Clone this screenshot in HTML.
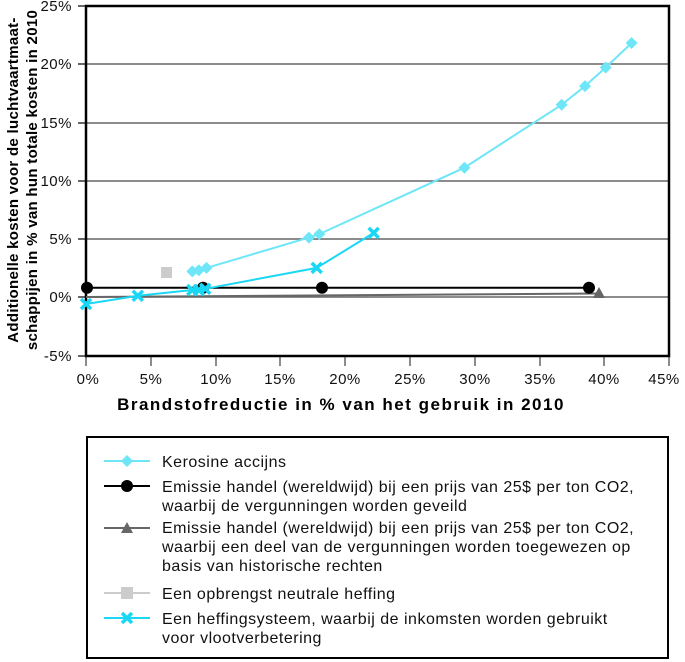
<!DOCTYPE html>
<html><head><meta charset="utf-8"><style>body{margin:0;background:#fff}svg{display:block;font-family:"Liberation Sans",sans-serif}</style></head><body>
<svg width="685" height="662" viewBox="0 0 685 662">
<g stroke="#666" stroke-width="1.5">
<line x1="86" y1="64" x2="669" y2="64"/><line x1="86" y1="123" x2="669" y2="123"/><line x1="86" y1="181" x2="669" y2="181"/><line x1="86" y1="239" x2="669" y2="239"/><line x1="86" y1="297" x2="669" y2="297"/>
</g>
<g stroke="#000" stroke-width="1.2">
<line x1="78" y1="6" x2="86" y2="6"/><line x1="78" y1="64" x2="86" y2="64"/><line x1="78" y1="123" x2="86" y2="123"/><line x1="78" y1="181" x2="86" y2="181"/><line x1="78" y1="239" x2="86" y2="239"/><line x1="78" y1="297" x2="86" y2="297"/><line x1="78" y1="356" x2="86" y2="356"/>
</g>
<g stroke="#666" stroke-width="1.5">
<line x1="86" y1="356" x2="86" y2="366"/><line x1="151" y1="356" x2="151" y2="366"/><line x1="216" y1="356" x2="216" y2="366"/><line x1="280" y1="356" x2="280" y2="366"/><line x1="345" y1="356" x2="345" y2="366"/><line x1="410" y1="356" x2="410" y2="366"/><line x1="475" y1="356" x2="475" y2="366"/><line x1="540" y1="356" x2="540" y2="366"/><line x1="604" y1="356" x2="604" y2="366"/><line x1="669" y1="356" x2="669" y2="366"/>
</g>
<rect x="86" y="6" width="583" height="350" fill="none" stroke="#000" stroke-width="2.5"/>
<g font-size="15" fill="#111" text-anchor="end" letter-spacing="0.5">
<text x="72" y="11">25%</text><text x="72" y="69">20%</text><text x="72" y="128">15%</text><text x="72" y="186">10%</text><text x="72" y="244">5%</text><text x="72" y="302">0%</text><text x="72" y="361">-5%</text>
</g>
<g font-size="15" fill="#111" text-anchor="middle" letter-spacing="0.5">
<text x="88" y="384">0%</text><text x="151" y="384">5%</text><text x="216" y="384">10%</text><text x="280" y="384">15%</text><text x="345" y="384">20%</text><text x="410" y="384">25%</text><text x="475" y="384">30%</text><text x="540" y="384">35%</text><text x="604" y="384">40%</text><text x="664" y="384">45%</text>
</g>
<text x="341" y="410" font-size="17" font-weight="bold" text-anchor="middle" letter-spacing="1.5">Brandstofreductie in % van het gebruik in 2010</text>
<g font-size="15" font-weight="bold" text-anchor="middle" letter-spacing="0.3">
<text transform="translate(18,180) rotate(-90)">Additionelle kosten voor de luchtvaartmaat-</text>
<text transform="translate(37,180) rotate(-90)">schappijen in % van hun totale kosten in 2010</text>
</g>
<polyline points="86,297 599,293.5" fill="none" stroke="#666" stroke-width="2"/>
<polygon points="599,287 605,298 593,298" fill="#666"/>
<polyline points="86,287.7 589,287.7" fill="none" stroke="#000" stroke-width="2"/>
<g fill="#000"><circle cx="87" cy="287.7" r="6"/><circle cx="203" cy="287.7" r="6"/><circle cx="322" cy="287.7" r="6"/><circle cx="589" cy="287.7" r="6"/></g>
<rect x="161" y="267" width="11" height="11" fill="#ccc"/>
<polyline points="192.3,271.4 198.8,270.2 206.5,267.9 308.9,237.6 319.3,234.1 464.4,167.7 561.6,104.8 585,86.1 605.7,67.5 631.6,43" fill="none" stroke="#6ee6f8" stroke-width="2"/>
<g fill="#6ee6f8">
<path d="M192.3 265.4l6 6-6 6-6-6z"/><path d="M198.8 264.2l6 6-6 6-6-6z"/><path d="M206.5 261.9l6 6-6 6-6-6z"/><path d="M308.9 231.6l6 6-6 6-6-6z"/><path d="M319.3 228.1l6 6-6 6-6-6z"/><path d="M464.4 161.7l6 6-6 6-6-6z"/><path d="M561.6 98.8l6 6-6 6-6-6z"/><path d="M585 80.1l6 6-6 6-6-6z"/><path d="M605.7 61.5l6 6-6 6-6-6z"/><path d="M631.6 37l6 6-6 6-6-6z"/>
</g>
<polyline points="86,304 137.8,295.8 192.3,290 198.8,290 205.2,288.8 316.7,267.9 373.7,232.9" fill="none" stroke="#1ad8f5" stroke-width="2"/>
<g stroke="#1ad8f5" stroke-width="3.5">
<path d="M81 299l10 10M91 299l-10 10"/><path d="M132.8 290.8l10 10M142.8 290.8l-10 10"/><path d="M187.3 285l10 10M197.3 285l-10 10"/><path d="M193.8 285l10 10M203.8 285l-10 10"/><path d="M200.2 283.8l10 10M210.2 283.8l-10 10"/><path d="M311.7 262.9l10 10M321.7 262.9l-10 10"/><path d="M368.7 227.9l10 10M378.7 227.9l-10 10"/>
</g>
<rect x="87" y="437" width="581" height="221" fill="none" stroke="#000" stroke-width="2"/>
<g stroke-width="2">
<line x1="104" y1="461" x2="150" y2="461" stroke="#6ee6f8"/><path d="M127 455l6 6-6 6-6-6z" fill="#6ee6f8"/>
<line x1="104" y1="486" x2="150" y2="486" stroke="#000"/><circle cx="127" cy="486" r="6"/>
<line x1="104" y1="528" x2="150" y2="528" stroke="#666"/><polygon points="127,522 133,533 121,533" fill="#666"/>
<line x1="104" y1="593" x2="150" y2="593" stroke="#ccc"/><rect x="121" y="587" width="12" height="12" fill="#ccc"/>
<line x1="104" y1="618" x2="150" y2="618" stroke="#1ad8f5"/><path d="M122 613l10 10M132 613l-10 10" stroke="#1ad8f5" stroke-width="3.5"/>
</g>
<g font-size="16" fill="#111" letter-spacing="0.5">
<text x="162" y="467">Kerosine accijns</text>
<text x="162" y="492">Emissie handel (wereldwijd) bij een prijs van 25$ per ton CO2,</text>
<text x="162" y="511">waarbij de vergunningen worden geveild</text>
<text x="162" y="533">Emissie handel (wereldwijd) bij een prijs van 25$ per ton CO2,</text>
<text x="162" y="552">waarbij een deel van de vergunningen worden toegewezen op</text>
<text x="162" y="571">basis van historische rechten</text>
<text x="162" y="599">Een opbrengst neutrale heffing</text>
<text x="162" y="624">Een heffingsysteem, waarbij de inkomsten worden gebruikt</text>
<text x="162" y="643">voor vlootverbetering</text>
</g>
</svg>
</body></html>
